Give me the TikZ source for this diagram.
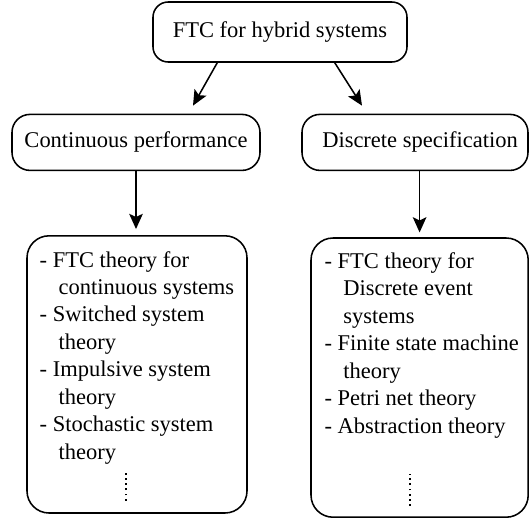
\documentclass[tikz,border=0pt]{standalone}
\usepackage{fontspec}
\setmainfont{Liberation Serif}
\usepackage{tikz}
\usetikzlibrary{positioning,arrows.meta,calc}
\newcommand{\ind}{\hspace*{13.5pt}}

\begin{document}
\begin{tikzpicture}[font=\fontsize{16}{19.5}\selectfont,
  box/.style={draw,line width=1.1pt,inner sep=0pt,align=center},
  lst/.style={inner sep=0pt,align=left,anchor=north west},
  arr/.style={-{Stealth[length=3.8mm,width=3.4mm,inset=0.8mm]},line width=1.1pt},
  dots/.style={line width=1.4pt,dash pattern=on 1.3pt off 2.4pt}]
\useasboundingbox (0,0) rectangle (13.25,-13.05);
\node[box,rounded corners=0.38cm,minimum width=6.35cm,minimum height=1.5cm] (top) at (7.0,-0.8) {FTC for hybrid systems};
\node[box,rounded corners=0.45cm,minimum width=6.2cm,minimum height=1.4cm] (lmid) at (3.4,-3.56) {Continuous performance};
\node[box,rounded corners=0.45cm,minimum width=5.65cm,minimum height=1.4cm] (rmid) at (10.375,-3.56) {\hspace*{0.25cm}Discrete specification};
\node[box,rounded corners=0.55cm,minimum width=5.5cm,minimum height=6.93cm] (lbot) at (3.425,-9.36) {};
\node[box,rounded corners=0.55cm,minimum width=5.43cm,minimum height=6.98cm] (rbot) at (10.49,-9.44) {};
\node[lst] (llist) at ([xshift=0.33cm,yshift=-0.4cm]lbot.north west) {- FTC theory for\\\ind continuous systems\\- Switched system\\\ind theory\\- Impulsive system\\\ind theory\\- Stochastic system\\\ind theory};
\node[lst] (rlist) at ([xshift=0.35cm,yshift=-0.38cm]rbot.north west) {- FTC theory for\\\ind Discrete event\\\ind systems\\- Finite state machine\\\ind theory\\- Petri net theory\\- Abstraction theory};
\draw[dots] ($(lbot.south)+(-0.28,0.33)$) -- ($(lbot.south)+(-0.28,1.08)$);
\draw[dots] ($(rbot.south)+(-0.24,0.3)$) -- ($(rbot.south)+(-0.24,1.1)$);
\draw[arr] ([xshift=1.625cm]top.south west) -- ([xshift=1.425cm,yshift=0.2cm]lmid.north);
\draw[arr] ([xshift=-1.825cm]top.south east) -- ([xshift=-1.325cm,yshift=0.2cm]rmid.north);
\draw[arr,shorten >=0.15cm] (lmid.south) -- (lmid.south |- lbot.north);
\draw[arr,shorten >=0.12cm] (rbot.north |- rmid.south) -- (rbot.north);
\end{tikzpicture}
\end{document}
